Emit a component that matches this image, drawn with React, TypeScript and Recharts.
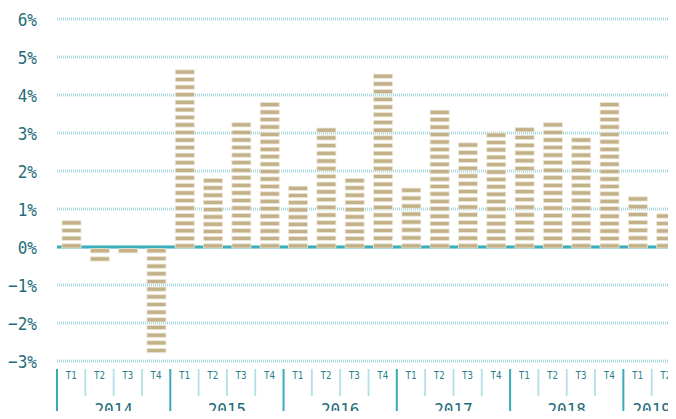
import { BarChart, Bar, XAxis, YAxis, CartesianGrid } from 'recharts';

const years = ['2014', '2015', '2016', '2017', '2018', '2019'];
const quartersPerYear = [4, 4, 4, 4, 4, 2];
const quarterLabels = ['T1', 'T2', 'T3', 'T4'];
// variation trimestrielle, en %
const growth = [
  0.69, -0.37, -0.19, -2.78,
  4.66, 1.8, 3.27, 3.8,
  1.6, 3.13, 1.8, 4.55,
  1.55, 3.6, 2.74, 3.0,
  3.14, 3.27, 2.87, 3.8,
  1.32, 0.87,
];
const yTicks = [-3, -2, -1, 0, 1, 2, 3, 4, 5, 6];

const data: { q: string; year: string; first: boolean; count: number; v: number }[] = [];
years.forEach((year, yi) => {
  for (let i = 0; i < quartersPerYear[yi]; i++) {
    data.push({
      q: quarterLabels[i],
      year,
      first: i === 0,
      count: quartersPerYear[yi],
      v: growth[data.length],
    });
  }
});

const FONT = '"DejaVu Sans Mono", monospace';
const SQUEEZE = 0.87;
const BAND = (680 - 57) / data.length;

const StripedBar = (props: any) => {
  const { x, y, width, height, payload } = props;
  const top = Math.min(y, y + height);
  const h = Math.abs(height);
  const v = payload.v;
  if (!h || !v) return null;
  const step = (h / Math.abs(v)) * 0.2;
  const sh = 4.2;
  // first/last stripe positions, stripes spread evenly between them
  const start = v > 0 ? top : top + 1.7;
  const end = v > 0 ? top + h + 1 - sh : top + h - sh;
  const span = Math.max(0, end - start);
  const n = Math.round(span / step) + 1;
  const gap = n > 1 ? span / (n - 1) : 0;
  const stripes = Array.from({ length: n }, (_, k) => start + k * gap);
  return (
    <g>
      {stripes.map((st, i) => (
        <rect key={i} x={x} y={st} width={width} height={sh} fill="#c3b189" stroke="#ece5d3" strokeWidth={0.8} />
      ))}
    </g>
  );
};

const PercentTick = (props: any) => {
  const { x, y, payload } = props;
  const v = payload.value;
  const label = `${v < 0 ? '−' + Math.abs(v) : v}%`;
  return (
    <text
      transform={`translate(${x},${y}) scale(${SQUEEZE},1)`}
      dy="0.36em"
      textAnchor="end"
      fontFamily={FONT}
      fontSize={18.4}
      fill="#1f6d7a"
    >
      {label}
    </text>
  );
};

const QuarterTick = (props: any) => {
  const { x, y, index, payload } = props;
  const d = data[index];
  const left = x - BAND / 2;
  const yearX = left + (BAND * d.count) / 2;
  return (
    <g>
      <line
        x1={left}
        x2={left}
        y1={y + 8}
        y2={d.first ? y + 60 : y + 35}
        stroke={d.first ? '#3aaab7' : '#b2e0e6'}
        strokeWidth={d.first ? 2 : 1.8}
      />
      <text
        transform={`translate(${x},${y + 18}) scale(${SQUEEZE},1)`}
        textAnchor="middle"
        fontFamily={FONT}
        fontSize={10.5}
        fill="#2b7f8a"
      >
        {payload.value}
      </text>
      {d.first && (
        <text
          transform={`translate(${yearX},${y + 54.7}) scale(${SQUEEZE},1)`}
          textAnchor="middle"
          fontFamily={FONT}
          fontSize={18.4}
          fill="#1f6d7a"
        >
          {d.year}
        </text>
      )}
    </g>
  );
};

export default function App() {
  return (
    <div style={{ width: 676, height: 419, overflow: 'hidden', margin: -8 }}>
      <BarChart width={680} height={419} data={data} margin={{ top: 19, right: 0, left: 0, bottom: 0 }} barSize={19}>
        <CartesianGrid
          vertical={false}
          stroke="#a6d9df"
          strokeWidth={3}
          strokeDasharray="1 1"
        />
        <CartesianGrid vertical={false} horizontalValues={[0]} stroke="#3bb0bc" strokeWidth={3} />
        <XAxis
          dataKey="q"
          interval={0}
          axisLine={false}
          tickLine={false}
          tickSize={0}
          tickMargin={0}
          height={58}
          tick={<QuarterTick />}
        />
        <YAxis
          domain={[-3, 6]}
          ticks={yTicks}
          width={57}
          axisLine={false}
          tickLine={false}
          tickSize={0}
          tickMargin={20}
          tick={<PercentTick />}
        />
        <Bar dataKey="v" shape={<StripedBar />} isAnimationActive={false} />
      </BarChart>
    </div>
  );
}
